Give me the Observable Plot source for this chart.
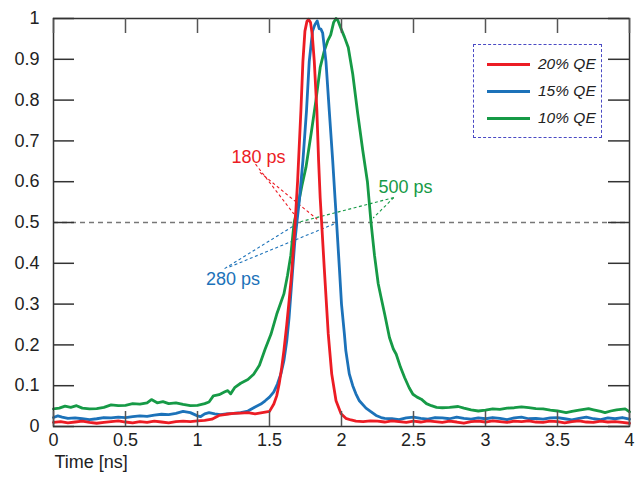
<!DOCTYPE html>
<html><head><meta charset="utf-8">
<script src="https://cdn.jsdelivr.net/npm/d3@7"></script>
<script src="https://cdn.jsdelivr.net/npm/@observablehq/plot@0.6"></script>
<style>
body{margin:0;background:#fff;}
#wrap{position:relative;width:643px;height:479px;font-family:"Liberation Sans",Arial,sans-serif;}
#legend{position:absolute;left:473px;top:44px;width:129px;height:94px;border:1.4px dashed #4a4ac4;box-sizing:border-box;}
.row{position:absolute;left:0;height:20px;width:128px;}
.sw{position:absolute;left:13px;width:43px;height:3px;top:9px;}
.lb{position:absolute;left:64px;top:0;font-style:italic;font-size:15.5px;line-height:20px;color:#222;}
</style></head><body><div id="wrap"></div>
<script>
// ---- data ----
const seriesNames = ["20% QE", "15% QE", "10% QE"];
const seriesColors = ["#ec1c24", "#1c72b9", "#169a46"];

const redT = [0,0.05,0.1,0.15,0.2,0.25,0.3,0.35,0.4,0.45,0.5,0.55,0.6,0.65,0.7,0.75,0.8,0.85,0.9,0.95,1.0,1.05,1.1,1.15,1.2,1.25,1.3,1.35,1.4,1.45,1.5,1.53,1.55,1.567,1.585,1.6,1.62,1.636,1.65,1.66,1.678,1.695,1.718,1.732,1.746,1.76,1.771,1.785,1.797,1.811,1.829,1.841,1.852,1.862,1.88,1.908,1.932,1.962,1.997,2.03,2.066,2.1,2.15,2.2,2.25,2.3,2.35,2.4,2.45,2.5,2.55,2.6,2.65,2.7,2.75,2.8,2.85,2.9,2.95,3.0,3.05,3.1,3.15,3.2,3.25,3.3,3.35,3.4,3.45,3.5,3.55,3.6,3.65,3.7,3.75,3.8,3.85,3.9,3.95,4.0];
const redV = [0.010,0.012,0.009,0.011,0.013,0.010,0.008,0.010,0.012,0.014,0.011,0.009,0.012,0.010,0.013,0.011,0.009,0.012,0.013,0.012,0.014,0.015,0.018,0.027,0.030,0.032,0.033,0.034,0.031,0.034,0.037,0.055,0.075,0.104,0.145,0.186,0.250,0.308,0.360,0.406,0.500,0.600,0.774,0.895,0.969,0.993,0.998,0.990,0.960,0.895,0.774,0.651,0.560,0.500,0.390,0.227,0.129,0.063,0.031,0.020,0.016,0.013,0.012,0.014,0.013,0.011,0.014,0.012,0.010,0.013,0.011,0.014,0.012,0.010,0.013,0.011,0.008,0.012,0.013,0.011,0.014,0.012,0.010,0.013,0.012,0.014,0.011,0.010,0.013,0.012,0.009,0.012,0.014,0.011,0.010,0.013,0.011,0.012,0.010,0.008];

const blueT = [0,0.03,0.06,0.1,0.15,0.2,0.25,0.3,0.35,0.4,0.45,0.5,0.55,0.6,0.65,0.7,0.75,0.8,0.85,0.9,0.95,1.0,1.02,1.05,1.08,1.12,1.16,1.2,1.25,1.3,1.35,1.4,1.44,1.47,1.5,1.53,1.555,1.58,1.6,1.62,1.636,1.66,1.675,1.69,1.706,1.732,1.757,1.776,1.799,1.815,1.831,1.845,1.857,1.869,1.892,1.915,1.939,1.955,1.966,1.985,2.0,2.02,2.03,2.054,2.078,2.1,2.124,2.17,2.206,2.24,2.275,2.3,2.35,2.4,2.45,2.5,2.55,2.6,2.65,2.7,2.75,2.8,2.85,2.9,2.95,3.0,3.05,3.1,3.15,3.2,3.25,3.3,3.35,3.4,3.45,3.5,3.55,3.6,3.65,3.7,3.75,3.8,3.85,3.9,3.95,4.0];
const blueV = [0.022,0.026,0.023,0.020,0.021,0.019,0.017,0.019,0.022,0.021,0.023,0.022,0.024,0.026,0.025,0.028,0.030,0.029,0.032,0.037,0.034,0.026,0.024,0.031,0.034,0.031,0.029,0.031,0.032,0.034,0.038,0.048,0.055,0.063,0.072,0.085,0.104,0.130,0.161,0.210,0.267,0.380,0.450,0.500,0.550,0.651,0.774,0.895,0.969,0.985,0.994,0.975,0.974,0.965,0.895,0.774,0.651,0.560,0.500,0.390,0.300,0.227,0.186,0.129,0.100,0.080,0.063,0.045,0.036,0.027,0.022,0.020,0.019,0.017,0.021,0.023,0.020,0.018,0.022,0.021,0.019,0.023,0.020,0.018,0.021,0.019,0.022,0.020,0.017,0.021,0.023,0.019,0.020,0.018,0.021,0.022,0.019,0.016,0.020,0.023,0.019,0.017,0.021,0.019,0.022,0.018];

const greenT = [0,0.04,0.08,0.12,0.16,0.2,0.25,0.3,0.35,0.4,0.45,0.5,0.55,0.6,0.65,0.68,0.72,0.76,0.8,0.85,0.9,0.95,1.0,1.05,1.08,1.11,1.15,1.19,1.21,1.23,1.26,1.3,1.35,1.39,1.43,1.47,1.51,1.55,1.58,1.6,1.625,1.648,1.671,1.7,1.725,1.753,1.79,1.822,1.852,1.88,1.904,1.925,1.945,1.962,1.975,1.997,2.02,2.047,2.078,2.113,2.148,2.18,2.205,2.229,2.255,2.275,2.3,2.333,2.36,2.38,2.41,2.438,2.47,2.496,2.525,2.554,2.59,2.624,2.66,2.7,2.75,2.81,2.85,2.9,2.95,3.0,3.05,3.1,3.15,3.2,3.25,3.3,3.35,3.4,3.45,3.5,3.56,3.6,3.65,3.716,3.75,3.8,3.83,3.87,3.91,3.97,4.0];
const greenV = [0.043,0.045,0.050,0.047,0.051,0.045,0.043,0.044,0.047,0.053,0.051,0.052,0.056,0.055,0.058,0.066,0.058,0.061,0.056,0.058,0.054,0.051,0.052,0.056,0.060,0.075,0.078,0.085,0.088,0.080,0.096,0.106,0.115,0.128,0.150,0.190,0.226,0.275,0.305,0.325,0.370,0.420,0.500,0.545,0.590,0.635,0.720,0.798,0.880,0.920,0.945,0.960,0.990,1.000,0.995,0.975,0.955,0.929,0.864,0.766,0.676,0.600,0.500,0.420,0.350,0.316,0.275,0.218,0.190,0.177,0.145,0.120,0.095,0.079,0.072,0.067,0.056,0.051,0.047,0.046,0.047,0.049,0.045,0.041,0.038,0.040,0.043,0.042,0.045,0.046,0.048,0.046,0.044,0.043,0.040,0.038,0.034,0.037,0.040,0.044,0.041,0.037,0.034,0.038,0.041,0.043,0.036];

const xTicks = [0, 0.5, 1, 1.5, 2, 2.5, 3, 3.5, 4];
const yTicks = [0, 0.1, 0.2, 0.3, 0.4, 0.5, 0.6, 0.7, 0.8, 0.9, 1];
const halfMax = [0.5];

const annoLabels = ["180 ps", "280 ps", "500 ps"];
const annoX = [1.424, 1.247, 2.444];
const annoY = [0.660, 0.360, 0.586];
// leader lines: series index, start (x,y), end (x,y)
const leadSeries = [0, 0, 1, 1, 2, 2];
const leadX1 = [1.403, 1.433, 1.188, 1.222, 2.363, 2.363];
const leadY1 = [0.643, 0.623, 0.387, 0.391, 0.561, 0.561];
const leadX2 = [1.669, 1.831, 1.669, 1.946, 1.715, 2.220];
const leadY2 = [0.521, 0.508, 0.492, 0.496, 0.502, 0.511];

// ---- build ----
const mk = (T, V) => T.map((t, i) => ({t, v: V[i]}));
const curves = [mk(redT, redV), mk(blueT, blueV), mk(greenT, greenV)];
const leads = leadSeries.map((s, i) => ({s, x1: leadX1[i], y1: leadY1[i], x2: leadX2[i], y2: leadY2[i]}));
const annos = annoLabels.map((l, i) => ({l, x: annoX[i], y: annoY[i], c: seriesColors[i]}));

const W = 643, H = 479, mL = 53, mR = 14, mT = 18, mB = 53;
const innerW = W - mL - mR, innerH = H - mT - mB;

const plot = Plot.plot({
  width: W, height: H,
  marginLeft: mL, marginRight: mR, marginTop: mT, marginBottom: mB,
  x: {domain: [0, 4]},
  y: {domain: [0, 1]},
  style: {fontFamily: "'Liberation Sans', Arial, sans-serif", fontSize: "18px", color: "#222", background: "#fff", overflow: "visible"},
  marks: [
    Plot.ruleY(halfMax, {stroke: "#777", strokeWidth: 1.5, strokeDasharray: "5,4"}),
    Plot.link(leads, {x1: "x1", y1: "y1", x2: "x2", y2: "y2", stroke: d => seriesColors[d.s], strokeWidth: 1.1, strokeDasharray: "3,2.5"}),
    Plot.line(curves[2], {x: "t", y: "v", stroke: seriesColors[2], strokeWidth: 2.8}),
    Plot.line(curves[1], {x: "t", y: "v", stroke: seriesColors[1], strokeWidth: 2.8}),
    Plot.line(curves[0], {x: "t", y: "v", stroke: seriesColors[0], strokeWidth: 2.8}),
    Plot.text(annos, {x: "x", y: "y", text: "l", fill: "c", fontSize: 18}),
    Plot.frame({stroke: "#333", strokeWidth: 1.5}),
    Plot.tickX(xTicks, {x: d => d, insetTop: innerH - 15, stroke: "#555", strokeWidth: 1.5}),
    Plot.tickX(xTicks, {x: d => d, insetBottom: innerH - 15, stroke: "#555", strokeWidth: 1.5}),
    Plot.tickY(yTicks, {y: d => d, insetRight: innerW - 21, stroke: "#333", strokeWidth: 1.5}),
    Plot.tickY(yTicks, {y: d => d, insetLeft: innerW - 21, stroke: "#333", strokeWidth: 1.5}),
    Plot.axisX(xTicks, {tickSize: 0, tickPadding: 7, label: null, tickFormat: d => String(d), fontSize: 18}),
    Plot.axisY(yTicks, {tickSize: 0, tickPadding: 14, label: null, tickFormat: d => String(d), fontSize: 18}),
    Plot.text(["Time [ns]"], {frameAnchor: "bottom-left", dy: 41, dx: 1, textAnchor: "start", fontSize: 18, fill: "#222"})
  ]
});

const wrap = document.getElementById("wrap");
wrap.appendChild(plot);

// legend (HTML)
const leg = document.createElement("div");
leg.id = "legend";
const rowTops = [9, 36, 63];
seriesNames.forEach((n, i) => {
  const r = document.createElement("div");
  r.className = "row";
  r.style.top = rowTops[i] + "px";
  const sw = document.createElement("div");
  sw.className = "sw";
  sw.style.background = seriesColors[i];
  const lb = document.createElement("div");
  lb.className = "lb";
  lb.textContent = n;
  r.appendChild(sw); r.appendChild(lb);
  leg.appendChild(r);
});
wrap.appendChild(leg);
</script>
</body></html>
